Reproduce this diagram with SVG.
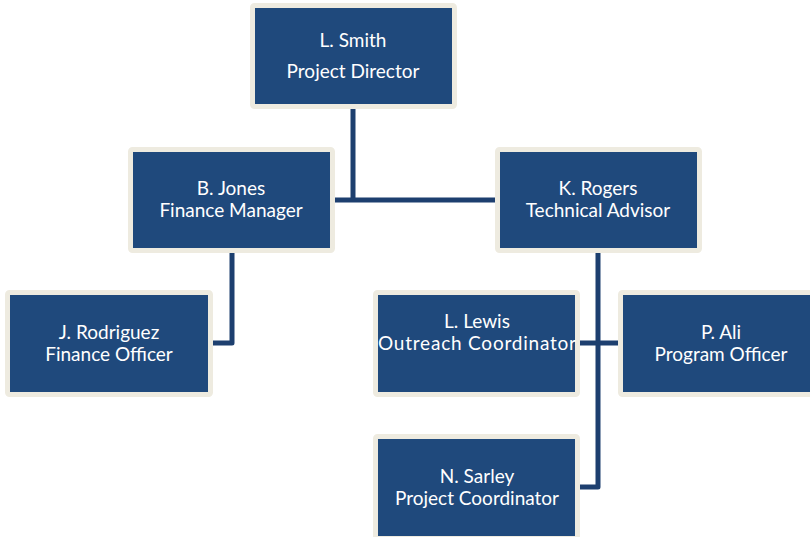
<svg xmlns="http://www.w3.org/2000/svg" width="810" height="537" viewBox="0 0 810 537">
<style>
.box{fill:#1F497C;stroke:#EEEBE0;stroke-width:5;}
.t{font-family:Lato,"Open Sans","DejaVu Sans",sans-serif;font-size:19px;fill:#FFFFFF;text-anchor:middle;}
.c{fill:none;stroke:#1D3F6F;stroke-width:5;stroke-linejoin:round;}
</style>
<rect width="810" height="537" fill="#FFFFFF"/>
<g id="connectors">
<path class="c" d="M353,109 V200"/>
<path class="c" d="M334,200 H497"/>
<path class="c" d="M232,252 V343 H213"/>
<path class="c" d="M598,252 V487 H580"/>
<path class="c" d="M580,343 H618"/>
</g>
<g id="smith">
<rect class="box" x="252.5" y="5.5" width="202" height="101" rx="2"/>
<text class="t" x="353" y="47">L. Smith</text>
<text class="t" x="353" y="78">Project Director</text>
</g>
<g id="jones">
<rect class="box" x="130.5" y="149.5" width="202" height="101" rx="2"/>
<text class="t" x="231" y="195">B. Jones</text>
<text class="t" x="231" y="217">Finance Manager</text>
</g>
<g id="rogers">
<rect class="box" x="497.5" y="149.5" width="202" height="101" rx="2"/>
<text class="t" x="598" y="195">K. Rogers</text>
<text class="t" x="598" y="217">Technical Advisor</text>
</g>
<g id="rodriguez">
<rect class="box" x="7.5" y="292.5" width="203" height="102" rx="2"/>
<text class="t" x="109" y="339">J. Rodriguez</text>
<text class="t" x="109" y="361">Finance Officer</text>
</g>
<g id="lewis">
<rect class="box" x="375.5" y="292.5" width="202" height="102" rx="2"/>
<text class="t" x="477" y="328">L. Lewis</text>
<text class="t" x="477" y="350" textLength="198" lengthAdjust="spacing">Outreach Coordinator</text>
</g>
<g id="ali">
<rect class="box" x="620.5" y="292.5" width="202" height="102" rx="2"/>
<text class="t" x="721" y="339">P. Ali</text>
<text class="t" x="721" y="361">Program Officer</text>
</g>
<g id="sarley">
<rect class="box" x="375.5" y="436.5" width="202" height="102" rx="2"/>
<text class="t" x="477" y="483">N. Sarley</text>
<text class="t" x="477" y="505">Project Coordinator</text>
</g>
</svg>
